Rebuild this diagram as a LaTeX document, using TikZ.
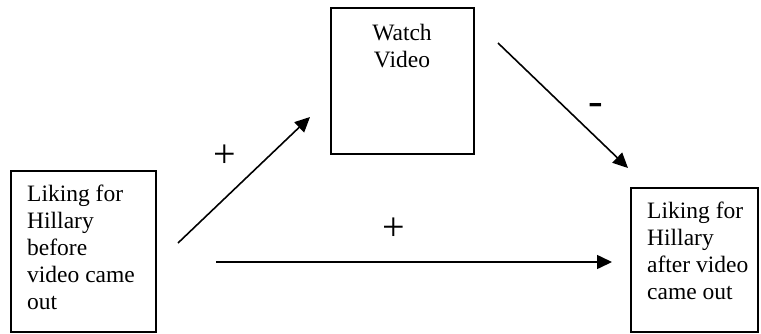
\documentclass[tikz,border=0pt]{standalone}
\usepackage{fontspec}
\setmainfont{Liberation Serif}
\usetikzlibrary{arrows.meta}
\begin{document}
\begin{tikzpicture}[x=1pt,y=-1pt,
  boxframe/.style={draw=black,line width=1.8pt,inner sep=0pt},
  boxtext/.style={inner sep=0pt,font=\fontsize{23.5}{27}\selectfont},
  link/.style={line width=1.6pt,-{Triangle[length=15pt,width=14pt]}},
  sign/.style={inner sep=0pt,font=\fontsize{40}{40}\selectfont}]
\useasboundingbox (0,0) rectangle (761,333);
% boxes
\node[boxframe,minimum width=145pt,minimum height=161pt,anchor=north west] (before) at (10,170) {};
\node[boxframe,minimum width=143pt,minimum height=146pt,anchor=north west] (watch) at (330,7) {};
\node[boxframe,minimum width=127pt,minimum height=144pt,anchor=north west] (after) at (630,187) {};
% box labels (anchored at the baseline of their last line)
\node[boxtext,align=left,anchor=base west] (beforetext) at (27,309) {Liking for\\Hillary\\before\\video came\\out};
\node[boxtext,align=center,anchor=base] (watchtext) at (402,67) {Watch\\Video};
\node[boxtext,align=left,anchor=base west] (aftertext) at (647,299) {Liking for\\Hillary\\after video\\came out};
% arrow end points
\coordinate (a1s) at (178,243);
\coordinate (a1e) at (310,117);
\coordinate (a2s) at (498,43);
\coordinate (a2e) at (628,168);
\coordinate (a3s) at (216,262);
\coordinate (a3e) at (612,262);
\draw[link] (a1s) -- (a1e);
\draw[link] (a2s) -- (a2e);
\draw[link] (a3s) -- (a3e);
% signs
\node[sign] (plusone) at (225,156) {+};
\node[sign] (plustwo) at (394,229) {+};
\node[sign,font=\fontsize{44}{44}\selectfont] (minus) at (596,109) {-};
\end{tikzpicture}
\end{document}
